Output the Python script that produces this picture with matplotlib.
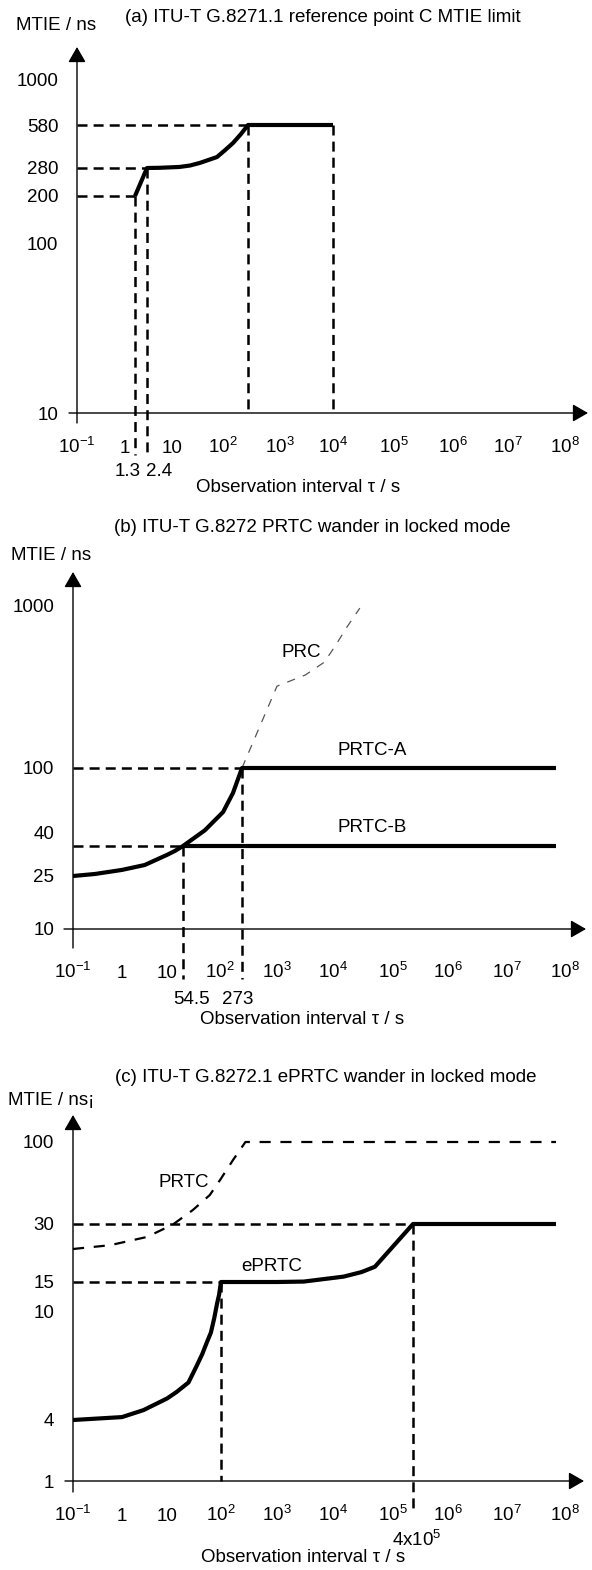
import numpy as np
import matplotlib
matplotlib.use("Agg")
import matplotlib.pyplot as plt
import matplotlib.transforms as mtransforms

plt.rcParams['font.family'] = ['Liberation Sans', 'DejaVu Sans']
plt.rcParams['font.size'] = 13.5
plt.rcParams['mathtext.default'] = 'regular'
plt.rcParams['lines.scale_dashes'] = False

W, H = 592, 1570

# ---- values ----
TAU_TICKS = [1e-1, 1, 10, 1e2, 1e3, 1e4, 1e5, 1e6, 1e7, 1e8]
TAU_LABELS = [r'$10^{-1}$', '1', '10', r'$10^{2}$', r'$10^{3}$', r'$10^{4}$',
              r'$10^{5}$', r'$10^{6}$', r'$10^{7}$', r'$10^{8}$']

# (a) G.8271.1 reference point C
A_YTICKS = [10, 100, 200, 280, 580, 1000]
A_TAU = [1.3, 2.4, 5, 14, 22.5, 35, 76, 108, 149, 206, 273, 1e4]
A_MTIE = [200, 280, 281, 285, 292, 305, 337, 378, 427, 498, 580, 580]

# (b) G.8272 PRTC
B_YTICKS = [10, 25, 40, 100, 1000]
B_PRTC_TAU = [0.1, 0.28, 1, 3.2, 10, 23, 54.5, 78, 115, 181, 273, 7e7]
B_PRTC_MTIE = [25, 25.8, 27.5, 29.7, 34.8, 37.0, 40, 48.1, 59.6, 74.6, 100, 100]
B_PRTCB_TAU = [54.5, 7e7]
B_PRTCB_MTIE = [40, 40]
B_PRC_TAU = [273, 1000, 3200, 7000, 11000, 17000, 28000]
B_PRC_MTIE = [100, 320, 375, 450, 570, 740, 970]

# (c) G.8272.1 ePRTC
C_YTICKS = [1, 4, 10, 15, 30, 100]
C_EPRTC_TAU = [0.1, 1, 3, 10, 15, 25, 35, 45, 55, 65, 75, 85, 92, 100,
               1000, 3000, 1.5e4, 3e4, 5e4, 4e5, 7e7]
C_EPRTC_MTIE = [4, 4.1, 4.35, 4.8, 5.07, 5.5, 6.3, 7.0, 7.75, 8.4, 9.5, 11.3, 12.6, 15,
                15, 15.1, 16.3, 17.5, 19, 30, 30]
C_PRTC_TAU = [0.1, 0.57, 3.6, 12.9, 30, 62, 96, 164, 273, 7e7]
C_PRTC_MTIE = [25, 25.7, 27.3, 29.9, 36.8, 45.9, 57.2, 76.8, 100, 100]

# ---- schematic axis geometry of the drawing (value -> pixel) ----
A_XKNOT = [0.1, 1, 1.3, 2.4, 10, 100, 273, 1e3, 1e4, 1e5, 1e6, 1e7, 1e8]
A_XPIX = [77, 125, 135, 147, 172, 223, 248, 280, 333, 394, 453, 508, 565]
A_YKNOT = [10, 100, 200, 280, 580, 1000]
A_YPIX = [413, 243, 196, 168, 125, 80]

B_XKNOT = [0.1, 1, 10, 54.5, 100, 273, 1e3, 1e4, 1e5, 1e6, 1e7, 1e8]
B_XPIX = [73, 122, 167, 183, 220, 242, 277, 333, 393, 448, 507, 565]
B_YKNOT = [10, 25, 40, 100, 1000]
B_YPIX = [929, 876, 846, 768, 606]

C_XKNOT = [0.1, 1, 10, 100, 1e3, 1e4, 1e5, 4e5, 1e6, 1e7, 1e8]
C_XPIX = [73, 122, 167, 221, 277, 333, 393, 413, 448, 507, 565]
C_YKNOT = [1, 4, 10, 15, 25, 30, 100]
C_YPIX = [1481, 1420, 1312, 1282, 1249, 1224, 1142]


def log_interp(vals, pix):
    lv = np.log10(vals)
    pix = np.asarray(pix, float)
    s0 = (pix[1] - pix[0]) / (lv[1] - lv[0])
    s1 = (pix[-1] - pix[-2]) / (lv[-1] - lv[-2])
    lv = np.r_[lv[0] - 12, lv, lv[-1] + 12]
    pix = np.r_[pix[0] - 12 * s0, pix, pix[-1] + 12 * s1]
    fwd = lambda v: np.interp(np.log10(np.clip(v, 1e-30, None)), lv, pix)
    inv = lambda p: 10 ** np.interp(p, pix, lv)
    return fwd, inv


fig = plt.figure(figsize=(W / 100, H / 100), dpi=100)


def panel(xknot, xpix, yknot, ypix, yticks, xpad):
    ax = fig.add_axes([0, 0, 1, 1])
    fx, ix = log_interp(xknot, xpix)
    fy, iy = log_interp(yknot, [H - p for p in ypix])
    ax.set_xscale('function', functions=(fx, ix))
    ax.set_yscale('function', functions=(fy, iy))
    ax.patch.set_visible(False)
    for s in ax.spines.values():
        s.set_visible(False)
    ax.spines['left'].set_position(('data', TAU_TICKS[0]))
    ax.spines['bottom'].set_position(('data', yticks[0]))
    ax.set_xticks(TAU_TICKS, TAU_LABELS, va='baseline')
    ax.set_yticks(yticks, [str(v) for v in yticks])
    ax.tick_params(axis='both', length=0)
    ax.tick_params(axis='x', pad=xpad)
    ax.tick_params(axis='y', pad=13.5)
    ax.set_xlim(ix(0), ix(W))
    ax.set_ylim(iy(0), iy(H))
    drop = lambda v, px: iy(fy(v) - px)
    return ax, drop


def axis_arrows(ax, y0, ybot, ytop, xleft, xright):
    st = dict(arrowstyle='-|>,head_length=0.47,head_width=0.27', mutation_scale=20,
              lw=1.0, color='k', shrinkA=0, shrinkB=0)
    ax.annotate('', xy=(0.1, 1 - ytop / H), xytext=(0.1, 1 - ybot / H),
                xycoords=('data', 'axes fraction'), textcoords=('data', 'axes fraction'),
                arrowprops=st)
    ax.annotate('', xy=(xright / W, y0), xytext=(xleft / W, y0),
                xycoords=('axes fraction', 'data'), textcoords=('axes fraction', 'data'),
                arrowprops=st)


dash = dict(color='k', lw=1.8, dashes=(7.2, 4.4))
thick = dict(color='k', lw=3.0, solid_capstyle='butt', solid_joinstyle='round')


def ftext(x, y, s, **kw):
    fig.text(x / W, 1 - y / H, s, va='center', **kw)


# ---------------- (a) ----------------
ax, drop = panel(A_XKNOT, A_XPIX, A_YKNOT, A_YPIX, A_YTICKS, 29)
axis_arrows(ax, 10, 423, 47, 69, 588)
for t, m in zip(A_TAU[:2], A_MTIE[:2]):
    ax.plot([0.1, t], [m, m], **dash)
    ax.plot([t, t], [m, drop(10, 42)], **dash)
ax.plot([0.1, A_TAU[-2]], [A_MTIE[-2], A_MTIE[-2]], **dash)
for t, m in zip(A_TAU[-2:], A_MTIE[-2:]):
    ax.plot([t, t], [m, 10], **dash)
ax.plot(A_TAU, A_MTIE, **thick)
ax.annotate('1.3', xy=(1.3, 10), xytext=(4, -45), textcoords='offset points', ha='right', va='baseline')
ax.annotate('2.4', xy=(2.4, 10), xytext=(-1, -45), textcoords='offset points', ha='left', va='baseline')
ftext(323, 18, '(a) ITU-T G.8271.1 reference point C MTIE limit', ha='center')
ftext(16, 25, 'MTIE / ns', ha='left')
ftext(298, 487, 'Observation interval τ / s', ha='center')

# ---------------- (b) ----------------
ax, drop = panel(B_XKNOT, B_XPIX, B_YKNOT, B_YPIX, B_YTICKS, 35)
axis_arrows(ax, 10, 948, 572, 64, 586)
t40 = ax.yaxis.get_major_ticks()[2]
t40.label1.set_transform(t40.label1.get_transform()
                         + mtransforms.ScaledTranslation(0, 13 / 100, fig.dpi_scale_trans))
ax.plot([0.1, 54.5], [40, 40], **dash)
ax.plot([0.1, 273], [100, 100], **dash)
ax.plot([54.5, 54.5], [40, drop(10, 50)], **dash)
ax.plot([273, 273], [100, drop(10, 50)], **dash)
ax.plot(B_PRC_TAU, B_PRC_MTIE, color='#555555', lw=0.9, dashes=(6, 6))
ax.plot(B_PRTC_TAU, B_PRTC_MTIE, **thick)
ax.plot(B_PRTCB_TAU, B_PRTCB_MTIE, **thick)
ax.text(2700, 520, 'PRC', ha='center', va='center')
ax.text(45000, 129, 'PRTC-A', ha='center', va='center')
ax.text(45000, 50, 'PRTC-B', ha='center', va='center')
ax.annotate('54.5', xy=(54.5, 10), xytext=(6, -54), textcoords='offset points', ha='center', va='baseline')
ax.annotate('273', xy=(273, 10), xytext=(-3, -54), textcoords='offset points', ha='center', va='baseline')
ftext(312, 527, '(b) ITU-T G.8272 PRTC wander in locked mode', ha='center')
ftext(11, 555, 'MTIE / ns', ha='left')
ftext(302, 1020, 'Observation interval τ / s', ha='center')

# ---------------- (c) ----------------
ax, drop = panel(C_XKNOT, C_XPIX, C_YKNOT, C_YPIX, C_YTICKS, 29)
axis_arrows(ax, 1, 1492, 1115, 65, 584)
ax.plot([0.1, 100], [15, 15], **dash)
ax.plot([0.1, 4e5], [30, 30], **dash)
ax.plot([100, 100], [15, 1], **dash)
ax.plot([4e5, 4e5], [30, drop(1, 32)], **dash)
ax.plot(C_PRTC_TAU, C_PRTC_MTIE, color='k', lw=1.6, dashes=(8, 7))
ax.plot(C_EPRTC_TAU, C_EPRTC_MTIE, **thick)
ax.text(20, 55, 'PRTC', ha='center', va='center')
ax.text(820, 19, 'ePRTC', ha='center', va='center')
ax.annotate(r'$4x10^{5}$', xy=(4e5, 1), xytext=(3, -47), textcoords='offset points', ha='center', va='baseline')
ftext(326, 1078, '(c) ITU-T G.8272.1 ePRTC wander in locked mode', ha='center')
ftext(8, 1100, 'MTIE / ns¡', ha='left')
ftext(303, 1558, 'Observation interval τ / s', ha='center')

fig.savefig('out.png', dpi=100)
